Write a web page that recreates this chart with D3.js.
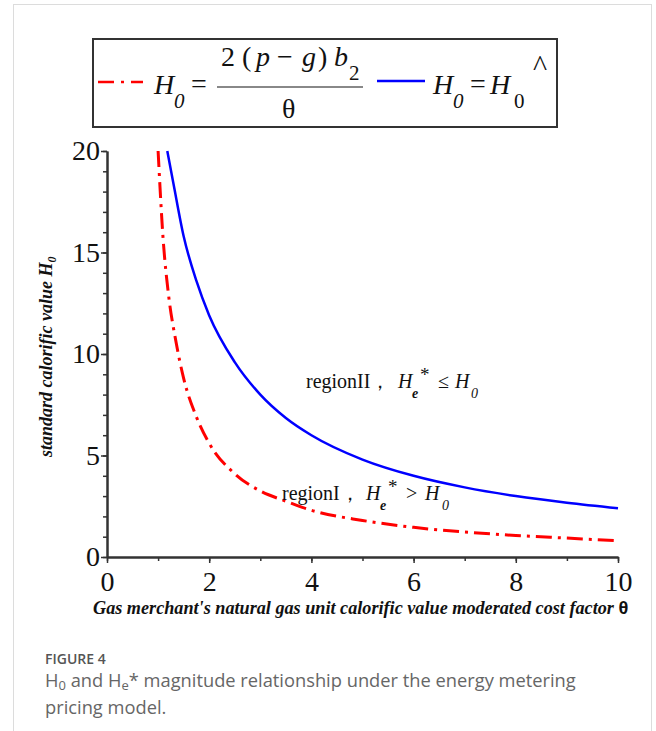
<!DOCTYPE html>
<html>
<head>
<meta charset="utf-8">
<script src="https://cdn.jsdelivr.net/npm/d3@7"></script>
<style>
  body { margin: 0; background: #fff; }
</style>
</head>
<body>
<script>
// values
const thetaRed = [1.0, 1.1, 1.2, 1.35, 1.5, 1.75, 2, 2.5, 3, 3.5, 4, 5, 6, 7, 8, 9, 10];
const h0Red = [20, 15.6, 13.0, 10.6, 8.8, 6.9, 5.6, 4.1, 3.25, 2.75, 2.3, 1.8, 1.46, 1.23, 1.06, 0.93, 0.8];
const thetaBlue = [1.18, 1.3, 1.5, 1.75, 2, 2.5, 3, 3.5, 4, 5, 6, 7, 8, 9, 10];
const h0Blue = [20, 18.4, 15.8, 13.6, 11.9, 9.6, 8.0, 6.85, 6.0, 4.8, 4.0, 3.43, 3.0, 2.67, 2.4];
const xTicks = [0, 2, 4, 6, 8, 10];
const yTicks = [0, 5, 10, 15, 20];
const xMinor = d3.range(0, 11);
const yMinor = d3.range(0, 21);

const W = 656, H = 731;
const serif = "'Liberation Serif', 'Times New Roman', serif";

const main = () => {
  const svg = d3.select("body").append("svg").attr("width", W).attr("height", H);

  // figure card border
  svg.append("rect")
    .attr("x", 13.5).attr("y", 4.5).attr("width", 638).attr("height", 800)
    .attr("fill", "none").attr("stroke", "#dcdcdc");

  const x = d3.scaleLinear().domain([0, 10]).range([107, 618]);
  const y = d3.scaleLinear().domain([0, 20]).range([557, 151]);

  drawAxes(svg, x, y);
  drawCurves(svg, x, y);
  drawLegend(svg);
  drawLabels(svg);
  drawCaption(svg);
};

const drawAxes = (svg, x, y) => {
  const styleAxis = (g) => {
    g.select(".domain").attr("stroke", "#333").attr("stroke-width", 2);
    g.selectAll(".tick line").attr("stroke", "#333").attr("stroke-width", 1.5);
    g.selectAll(".tick text")
      .attr("font-family", serif).attr("font-size", 28).attr("fill", "#111");
  };

  svg.append("g").attr("transform", `translate(0,${y(0)})`)
    .call(d3.axisBottom(x).tickValues(xMinor).tickSize(4).tickSizeOuter(0).tickFormat(""))
    .call(styleAxis);
  svg.append("g").attr("transform", `translate(0,${y(0)})`)
    .call(d3.axisBottom(x).tickValues(xTicks).tickSize(6).tickSizeOuter(0).tickPadding(8).tickFormat(d3.format("d")))
    .call(styleAxis);

  svg.append("g").attr("transform", `translate(${x(0)},0)`)
    .call(d3.axisLeft(y).tickValues(yMinor).tickSize(4).tickSizeOuter(0).tickFormat(""))
    .call(styleAxis);
  svg.append("g").attr("transform", `translate(${x(0)},0)`)
    .call(d3.axisLeft(y).tickValues(yTicks).tickSize(6).tickSizeOuter(0).tickPadding(1).tickFormat(d3.format("d")))
    .call(styleAxis);
};

const drawCurves = (svg, x, y) => {
  const line = d3.line().x((d) => x(d[0])).y((d) => y(d[1])).curve(d3.curveMonotoneX);

  svg.append("path")
    .datum(d3.zip(thetaRed, h0Red))
    .attr("d", line)
    .attr("fill", "none")
    .attr("stroke", "#ff0000")
    .attr("stroke-width", 3)
    .attr("stroke-dasharray", "16,6,3,6");

  svg.append("path")
    .datum(d3.zip(thetaBlue, h0Blue))
    .attr("d", line)
    .attr("fill", "none")
    .attr("stroke", "#0000ff")
    .attr("stroke-width", 2.5);
};

// text made of pieces: [string, x, y, {style}]
const pieces = (g, list, base) => {
  list.forEach(([s, px, py, st]) => {
    const t = g.append("text")
      .attr("x", px).attr("y", py)
      .attr("font-family", serif)
      .attr("fill", "#111")
      .attr("font-size", base)
      .text(s);
    Object.entries(st || {}).forEach(([k, v]) => t.attr(k, v));
  });
};

const drawLegend = (svg) => {
  const g = svg.append("g");
  g.append("rect")
    .attr("x", 93).attr("y", 39).attr("width", 464).attr("height", 88)
    .attr("fill", "none").attr("stroke", "#333").attr("stroke-width", 2);

  g.append("line")
    .attr("x1", 98).attr("x2", 143).attr("y1", 82).attr("y2", 82)
    .attr("stroke", "#ff0000").attr("stroke-width", 2.7).attr("stroke-dasharray", "16,7,3,7");
  g.append("line")
    .attr("x1", 377).attr("x2", 425).attr("y1", 81).attr("y2", 81)
    .attr("stroke", "#0000ff").attr("stroke-width", 2.7);

  g.append("line")
    .attr("x1", 217).attr("x2", 363).attr("y1", 87).attr("y2", 87)
    .attr("stroke", "#888").attr("stroke-width", 2);

  const it = { "font-style": "italic" };
  const sub = { "font-size": 21, "font-style": "italic" };
  pieces(g, [
    ["H", 154, 94, it],
    ["0", 174, 108, sub],
    ["=", 191, 93],
    ["2", 221, 66],
    ["(", 242, 66],
    ["p", 256, 66, it],
    ["\u2212", 277, 66],
    ["g", 302, 66, it],
    [")", 318, 66],
    ["b", 334, 66, it],
    ["2", 349, 80, { "font-size": 21 }],
    ["\u03b8", 282, 118],
    ["H", 433, 94, it],
    ["0", 453, 108, sub],
    ["=", 470, 93],
    ["H", 490, 94, it],
    ["0", 514, 108, { "font-size": 21 }],
    ["^", 533, 76, { "font-size": 30 }],
  ], 28);
};

const drawLabels = (svg) => {
  const g = svg.append("g");
  const it = { "font-style": "italic" };
  const sub = { "font-size": 14, "font-style": "italic" };
  const subE = { "font-size": 14, "font-style": "italic", "font-weight": "bold" };
  pieces(g, [
    ["regionII\uff0c", 306, 388],
    ["H", 398, 388, it],
    ["e", 412, 398, subE],
    ["*", 420, 381, { "font-size": 19 }],
    ["\u2264", 438, 388],
    ["H", 455, 388, it],
    ["0", 471, 398, sub],
    ["regionI\uff0c", 282, 500],
    ["H", 366, 500, it],
    ["e", 380, 510, subE],
    ["*", 388, 493, { "font-size": 19 }],
    [">", 406, 500],
    ["H", 425, 500, it],
    ["0", 442, 510, sub],
  ], 20);

  // axis titles
  const yt = svg.append("text")
    .attr("transform", "translate(52,457) rotate(-90)")
    .attr("font-family", serif).attr("font-size", 18)
    .attr("font-style", "italic").attr("font-weight", "bold").attr("fill", "#111");
  yt.append("tspan").text("standard calorific value H");
  yt.append("tspan").attr("font-size", 12).attr("dy", 4).text("0");

  const xt = svg.append("text")
    .attr("x", 93).attr("y", 614)
    .attr("font-family", serif).attr("font-size", 18.2)
    .attr("font-style", "italic").attr("font-weight", "bold").attr("fill", "#111");
  xt.append("tspan").text("Gas merchant's natural gas unit calorific value moderated cost factor ");
  xt.append("tspan").attr("font-style", "normal").attr("font-family", "'Liberation Sans', Arial, sans-serif").text("\u03b8");
};

const drawCaption = (svg) => {
  const sans = "'Open Sans', 'Noto Sans', sans-serif";
  svg.append("text")
    .attr("x", 45).attr("y", 664)
    .attr("font-family", sans).attr("font-size", 14).attr("font-weight", 600)
    .attr("fill", "#555").text("FIGURE 4");

  const c = svg.append("text")
    .attr("x", 45).attr("y", 687)
    .attr("font-family", sans).attr("font-size", 18.3).attr("fill", "#666");
  c.append("tspan").text("H");
  c.append("tspan").attr("font-size", 13).attr("dy", 3).text("0");
  c.append("tspan").attr("dy", -3).text(" and H");
  c.append("tspan").attr("font-size", 13).attr("dy", 3).text("e");
  c.append("tspan").attr("dy", -3).text("* magnitude relationship under the energy metering");

  svg.append("text")
    .attr("x", 45).attr("y", 714)
    .attr("font-family", sans).attr("font-size", 18.3).attr("fill", "#666")
    .text("pricing model.");
};

document.addEventListener("DOMContentLoaded", main);
</script>
</body>
</html>
